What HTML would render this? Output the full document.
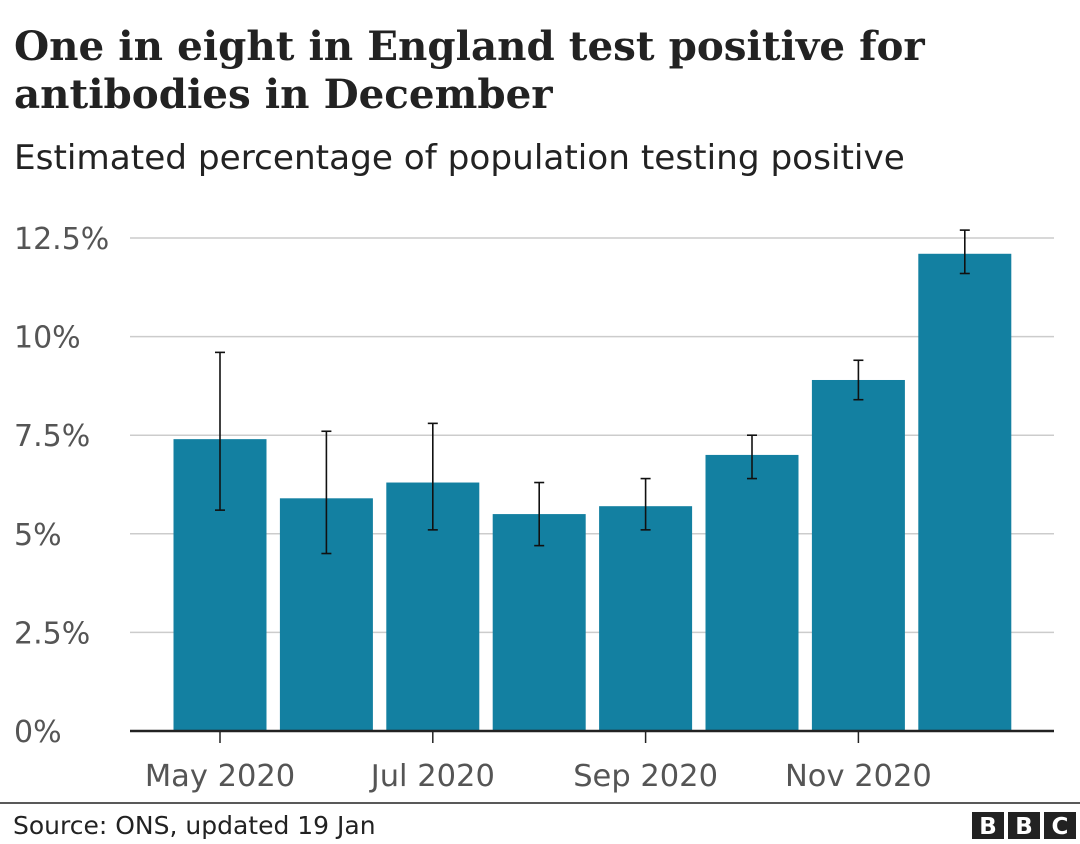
<!DOCTYPE html>
<html><head><meta charset="utf-8">
<style>
body{margin:0;background:#fff;width:1080px;height:844px;overflow:hidden;font-family:"DejaVu Sans",sans-serif;}
#title{position:absolute;left:14px;top:22px;font-family:"DejaVu Serif",serif;font-weight:bold;font-size:40px;line-height:48px;color:#222;white-space:nowrap;}
#sub{position:absolute;left:14px;top:138px;font-size:30px;color:#222;white-space:nowrap;}
svg{position:absolute;left:0;top:0;}
</style></head><body>
<div id="title"><span id="t1">One in eight in England test positive for</span><br>antibodies in December</div>
<div id="sub"><span id="s1">Estimated percentage of population testing positive</span></div>
<svg id="chart" width="1080" height="844"></svg>
<script>
const categories=["May 2020","Jun 2020","Jul 2020","Aug 2020","Sep 2020","Oct 2020","Nov 2020","Dec 2020"];
const values=[7.4,5.9,6.3,5.5,5.7,7.0,8.9,12.1];
const upper=[9.6,7.6,7.8,6.3,6.4,7.5,9.4,12.7];
const lower=[5.6,4.5,5.1,4.7,5.1,6.4,8.4,11.6];
const yTicks=[0,2.5,5,7.5,10,12.5];
const yTickLabels=["0%","2.5%","5%","7.5%","10%","12.5%"];
const xTickIdx=[0,2,4,6];
const xTickLabels=["May 2020","Jul 2020","Sep 2020","Nov 2020"];
function fit(elId,spanId,target){const el=document.getElementById(elId),sp=document.getElementById(spanId);
 const fs=parseFloat(getComputedStyle(el).fontSize);const w=sp.getBoundingClientRect().width;el.style.fontSize=(fs*target/w)+'px';}
fit('title','t1',911);
fit('sub','s1',891);
const ns="http://www.w3.org/2000/svg";
const svg=document.getElementById('chart');
const y=v=>731-v*(493/12.5);
const x=i=>220+i*106.4;
const bw=93;
function mk(t,a){const e=document.createElementNS(ns,t);for(const k in a)e.setAttribute(k,a[k]);svg.appendChild(e);return e;}
yTicks.forEach((v,i)=>{
 if(v>0){const g=mk('line',{x1:130,x2:1054,y1:y(v),y2:y(v),stroke:'#ccc','stroke-width':1.5});
 
 }
 const t=mk('text',{x:14,y:y(v)+11,'font-size':30,fill:'#555'});t.textContent=yTickLabels[i];
 
 
});
values.forEach((v,i)=>{
 const r=mk('rect',{x:x(i)-bw/2,y:y(v),width:bw,height:y(0)-y(v),fill:'#1380a1'});
 
 
 const g=mk('g',{stroke:'#111','stroke-width':1.6});
 
 
 [[x(i),y(upper[i]),x(i),y(lower[i])],[x(i)-5,y(upper[i]),x(i)+5,y(upper[i])],[x(i)-5,y(lower[i]),x(i)+5,y(lower[i])]].forEach(c=>{
  const l=document.createElementNS(ns,'line');l.setAttribute('x1',c[0]);l.setAttribute('y1',c[1]);l.setAttribute('x2',c[2]);l.setAttribute('y2',c[3]);g.appendChild(l);});
 svg.appendChild(g);
});
const ax=mk('line',{x1:130,x2:1054,y1:731,y2:731,stroke:'#222','stroke-width':2.5});


xTickIdx.forEach((idx,i)=>{
 const tk=mk('line',{x1:x(idx),x2:x(idx),y1:731,y2:743,stroke:'#222','stroke-width':1.5});
 
 
 const t=mk('text',{x:x(idx),y:786,'font-size':30.5,fill:'#555','text-anchor':'middle'});t.textContent=xTickLabels[i];
 
 
});
const fl=mk('line',{x1:0,x2:1080,y1:803,y2:803,stroke:'#222','stroke-width':1.5});


const src=mk('text',{x:13,y:834,'font-size':25,fill:'#222'});src.textContent="Source: ONS, updated 19 Jan";


["B","B","C"].forEach((c,i)=>{
 const bx=972+i*36;
 const r=mk('rect',{x:bx,y:812,width:32,height:27,fill:'#222'});
 
 
 const t=mk('text',{x:bx+16,y:834,'font-size':23,'font-weight':'bold',fill:'#fff','text-anchor':'middle'});t.textContent=c;
 
 
});
</script>
</body></html>
